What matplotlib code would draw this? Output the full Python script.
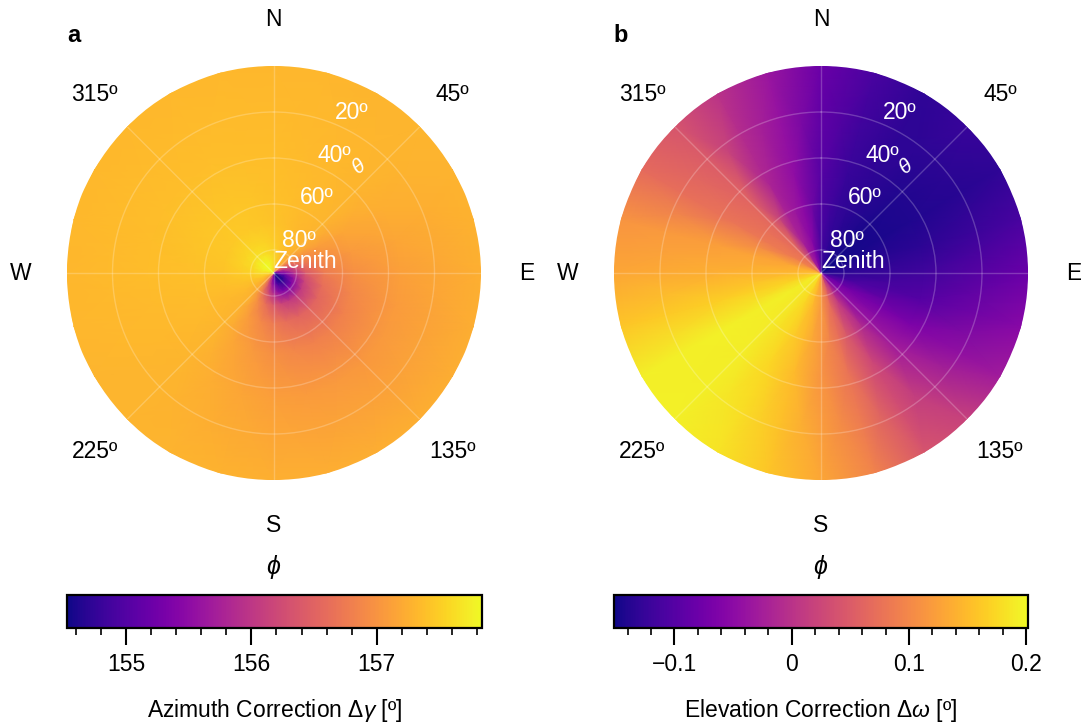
import numpy as np
import matplotlib
matplotlib.use('Agg')
import matplotlib.pyplot as plt
from matplotlib.ticker import MultipleLocator, FixedLocator, FixedFormatter

plt.rcParams['font.family'] = ['Liberation Sans', 'DejaVu Sans']
plt.rcParams['mathtext.fontset'] = 'custom'
plt.rcParams['mathtext.rm'] = 'Liberation Sans'
plt.rcParams['mathtext.it'] = 'Liberation Sans:italic'
plt.rcParams['mathtext.bf'] = 'Liberation Sans:bold'

# ---------------- data ----------------
azimuth_deg = [0, 15, 30, 45, 60, 75, 90, 105, 120, 135, 150, 165,
               180, 195, 210, 225, 240, 255, 270, 285, 300, 315, 330, 345]

# panel a: azimuth correction [deg]; rows = elevation [deg]
elev_a = [90, 88, 85, 81, 76, 68, 55, 35, 0, -10]
dgamma_e90 = [157.54, 157.34, 157.10, 156.84, 156.24, 155.69, 155.21, 154.84, 154.61, 154.53, 154.61, 154.84,
              155.21, 155.69, 156.24, 156.84, 157.10, 157.34, 157.54, 157.70, 157.80, 157.83, 157.80, 157.70]
dgamma_e88 = [157.58, 157.40, 157.19, 156.97, 156.34, 155.75, 155.25, 154.86, 154.61, 154.53, 154.61, 154.86,
              155.25, 155.75, 156.34, 156.97, 157.19, 157.40, 157.58, 157.71, 157.80, 157.83, 157.80, 157.71]
dgamma_e85 = [157.63, 157.48, 157.32, 157.14, 156.50, 155.92, 155.41, 155.02, 154.78, 154.70, 154.78, 155.02,
              155.41, 155.92, 156.50, 157.14, 157.32, 157.48, 157.63, 157.74, 157.81, 157.83, 157.81, 157.74]
dgamma_e81 = [157.53, 157.43, 157.32, 157.20, 156.71, 156.26, 155.87, 155.57, 155.38, 155.32, 155.38, 155.57,
              155.87, 156.26, 156.71, 157.20, 157.32, 157.43, 157.53, 157.60, 157.65, 157.67, 157.65, 157.60]
dgamma_e76 = [157.48, 157.42, 157.34, 157.27, 156.95, 156.64, 156.38, 156.18, 156.06, 156.02, 156.06, 156.18,
              156.38, 156.64, 156.95, 157.27, 157.34, 157.42, 157.48, 157.53, 157.56, 157.57, 157.56, 157.53]
dgamma_e68 = [157.41, 157.38, 157.33, 157.29, 157.08, 156.90, 156.74, 156.61, 156.54, 156.51, 156.54, 156.61,
              156.74, 156.90, 157.08, 157.29, 157.33, 157.38, 157.41, 157.44, 157.46, 157.47, 157.46, 157.44]
dgamma_e55 = [157.39, 157.37, 157.34, 157.30, 157.17, 157.05, 156.95, 156.87, 156.82, 156.81, 156.82, 156.87,
              156.95, 157.05, 157.17, 157.30, 157.34, 157.37, 157.39, 157.42, 157.43, 157.43, 157.43, 157.42]
dgamma_e35 = [157.36, 157.34, 157.32, 157.30, 157.23, 157.17, 157.11, 157.07, 157.05, 157.04, 157.05, 157.07,
              157.11, 157.17, 157.23, 157.30, 157.32, 157.34, 157.36, 157.37, 157.38, 157.38, 157.38, 157.37]
dgamma_e00 = [157.31, 157.31, 157.30, 157.30, 157.28, 157.27, 157.25, 157.24, 157.24, 157.23, 157.24, 157.24,
              157.25, 157.27, 157.28, 157.30, 157.30, 157.31, 157.31, 157.32, 157.32, 157.32, 157.32, 157.32]
dgamma_em10 = [157.31, 157.31, 157.30, 157.30, 157.28, 157.27, 157.25, 157.24, 157.24, 157.23, 157.24, 157.24,
               157.25, 157.27, 157.28, 157.30, 157.30, 157.31, 157.31, 157.32, 157.32, 157.32, 157.32, 157.32]

# panel b: elevation correction [deg]; rows = elevation [deg]
elev_b = [90, 75, 45, 0, -10]
domega_e90 = [-0.124, -0.134, -0.145, -0.152, -0.152, -0.141, -0.141, -0.117, -0.081, -0.064, -0.004, 0.060,
              0.124, 0.148, 0.177, 0.184, 0.191, 0.173, 0.152, 0.138, 0.095, 0.078, -0.028, -0.064]
domega_e75 = [-0.112, -0.129, -0.140, -0.147, -0.147, -0.138, -0.129, -0.108, -0.072, -0.046, 0.010, 0.069,
              0.118, 0.148, 0.175, 0.188, 0.192, 0.170, 0.145, 0.131, 0.086, 0.069, -0.023, -0.055]
domega_e45 = [-0.099, -0.124, -0.134, -0.141, -0.141, -0.134, -0.117, -0.099, -0.064, -0.028, 0.025, 0.078,
              0.113, 0.148, 0.173, 0.191, 0.194, 0.166, 0.138, 0.124, 0.078, 0.060, -0.018, -0.046]
domega_e00 = [-0.081, -0.110, -0.131, -0.124, -0.131, -0.110, -0.081, -0.053, -0.028, 0.018, 0.042, 0.095,
              0.131, 0.159, 0.184, 0.194, 0.194, 0.159, 0.131, 0.113, 0.067, 0.042, 0.000, -0.035]
domega_em10 = [-0.081, -0.110, -0.131, -0.124, -0.131, -0.110, -0.081, -0.053, -0.028, 0.018, 0.042, 0.095,
               0.131, 0.159, 0.184, 0.194, 0.194, 0.159, 0.131, 0.113, 0.067, 0.042, 0.000, -0.035]

range_a = (154.53, 157.835)
range_b = (-0.152, 0.2015)
ticks_a = [155, 156, 157]
ticklabels_a = ['155', '156', '157']
ticks_b = [-0.1, 0, 0.1, 0.2]
ticklabels_b = ['\u22120.1', '0', '0.1', '0.2']

angle_ticks = [0, 45, 90, 135, 180, 225, 270, 315]
angle_labels = ['N', '45º', 'E', '135º', 'S', '225º', 'W', '315º']
elev_rings = [20, 40, 60, 80]
ring_labels = ['20º', '40º', '60º', '80º']

FS = 16.5

# ---------------- figure ----------------
W, H = 1081, 724
fig = plt.figure(figsize=(W / 100, H / 100), dpi=100)


def fx(x):
    return x / W


def fy(y):
    return 1 - y / H


def polar_panel(cx, table, elevs, rng, letter):
    R = 207
    ax = fig.add_axes([fx(cx - R), fy(273 + R), 2 * R / W, 2 * R / H], projection='polar')
    ax.set_theta_zero_location('N')
    ax.set_theta_direction(-1)
    az = np.deg2rad(np.array(azimuth_deg + [azimuth_deg[0] + 360]))
    rr = 90 - np.array(elevs, dtype=float)
    C = np.array([row + [row[0]] for row in table])
    T, Rg = np.meshgrid(az, rr)
    mesh = ax.pcolormesh(T, Rg, C, shading='gouraud', cmap='plasma',
                         vmin=rng[0], vmax=rng[1], rasterized=True)
    ax.set_ylim(0, 90)
    ax.set_thetagrids(angle_ticks, labels=[''] * len(angle_ticks))
    ax.set_rgrids([90 - e for e in elev_rings], labels=[''] * len(elev_rings))
    ax.grid(True, color='white', alpha=0.22, lw=1.0)
    ax.spines['polar'].set_visible(False)
    ax.tick_params(length=0)
    for a, lab in zip(angle_ticks, angle_labels):
        ax.text(np.deg2rad(a), 110, lab, ha='center', va='center', fontsize=FS,
                clip_on=False)
    for e, lab in zip(elev_rings, ring_labels):
        ax.text(np.deg2rad(22.5), 90 - e, lab, ha='left', va='bottom', fontsize=FS,
                color='white')
    ax.text(np.deg2rad(22.5), 0.0, 'Zenith', ha='left', va='bottom', fontsize=FS,
            color='white')
    ax.text(np.deg2rad(38.9), 59.3, r'$\theta$', rotation=39, ha='center', va='center',
            fontsize=15, color='white')
    ax.text(np.deg2rad(180), 128, r'$\phi$', ha='center', va='center', fontsize=18,
            clip_on=False)
    fig.text(fx(cx - 200), fy(36), letter, fontsize=17, fontweight='bold',
             ha='center', va='center')
    return mesh


table_a = [dgamma_e90, dgamma_e88, dgamma_e85, dgamma_e81, dgamma_e76,
           dgamma_e68, dgamma_e55, dgamma_e35, dgamma_e00, dgamma_em10]
table_b = [domega_e90, domega_e75, domega_e45, domega_e00, domega_em10]

mesh_a = polar_panel(273.5, table_a, elev_a, range_a, 'a')
mesh_b = polar_panel(821, table_b, elev_b, range_b, 'b')


def colorbar(mesh, x0, x1, ticks, labels, minor, label):
    cax = fig.add_axes([fx(x0), fy(628), (x1 - x0) / W, 33 / H])
    cb = fig.colorbar(mesh, cax=cax, orientation='horizontal')
    cb.outline.set_linewidth(1.6)
    cax.xaxis.set_major_locator(FixedLocator(ticks))
    cax.xaxis.set_major_formatter(FixedFormatter(labels))
    cax.xaxis.set_minor_locator(MultipleLocator(minor))
    cax.tick_params(axis='x', which='major', direction='out', length=12, width=1.5,
                    labelsize=FS, pad=6)
    cax.tick_params(axis='x', which='minor', direction='out', length=5, width=1.2)
    cax.set_xlabel(label, fontsize=FS, labelpad=15)
    return cb


colorbar(mesh_a, 67, 481.5, ticks_a, ticklabels_a, 0.2,
         r'Azimuth Correction $\Delta\mathit{\gamma}$ [º]')
colorbar(mesh_b, 613.5, 1028, ticks_b, ticklabels_b, 0.02,
         r'Elevation Correction $\Delta\mathit{\omega}$ [º]')

fig.savefig('out.png', dpi=100)
